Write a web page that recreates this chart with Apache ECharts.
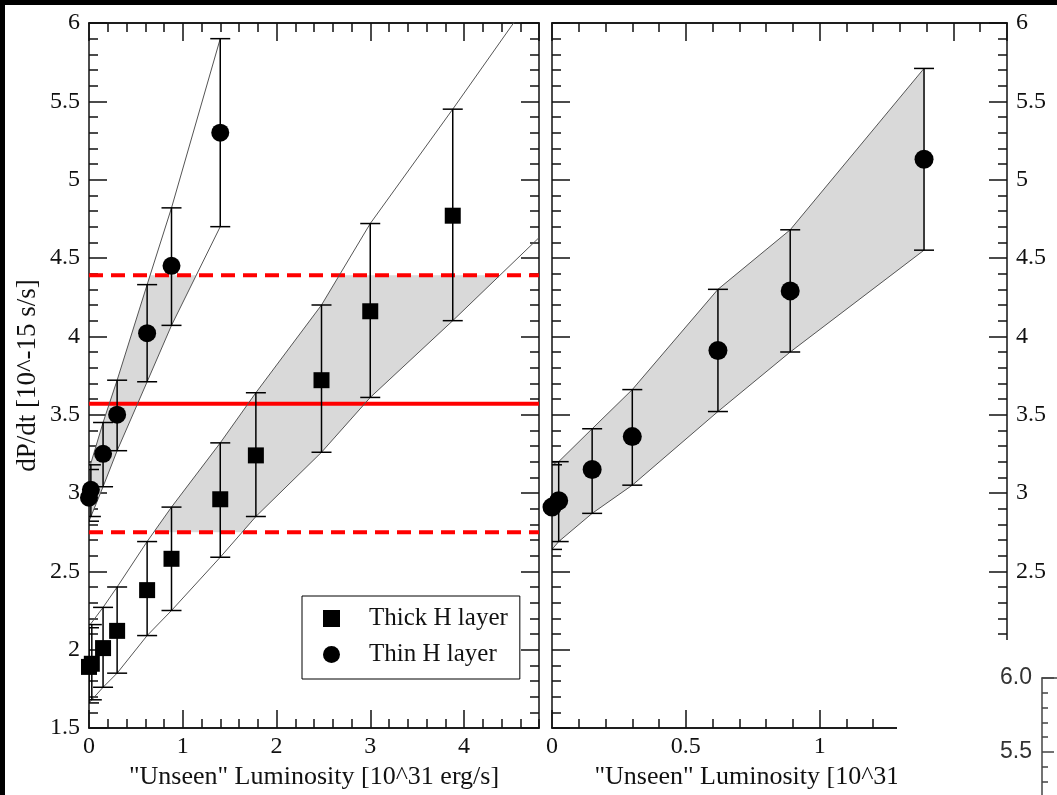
<!DOCTYPE html>
<html><head><meta charset="utf-8">
<script src="https://cdn.jsdelivr.net/npm/echarts@6/dist/echarts.min.js"></script>
<style>html,body{margin:0;padding:0;background:#fff}#c{width:1057px;height:795px}</style>
</head><body><div id="c"></div><script>
// ---------- data ----------
// Left panel, thick H layer (squares)
const thickX  = [0, 0.03, 0.15, 0.30, 0.62, 0.88, 1.40, 1.78, 2.48, 3.00, 3.88];
const thickY  = [1.89, 1.91, 2.01, 2.12, 2.38, 2.58, 2.96, 3.24, 3.72, 4.16, 4.77];
const thickHi = [2.14, 2.16, 2.27, 2.40, 2.69, 2.91, 3.32, 3.64, 4.20, 4.72, 5.45];
const thickLo = [1.66, 1.68, 1.76, 1.85, 2.09, 2.25, 2.59, 2.85, 3.26, 3.61, 4.10];
const thickBandX     = [0, 0.15, 0.30, 0.62, 0.88, 1.40, 1.78, 2.48, 3.00, 3.88, 4.80];
const thickBandUpper = [2.15, 2.27, 2.40, 2.69, 2.91, 3.32, 3.64, 4.20, 4.72, 5.45, 6.23];
const thickBandLower = [1.66, 1.76, 1.85, 2.09, 2.25, 2.59, 2.85, 3.26, 3.61, 4.10, 4.63];
// Left panel, thin H layer (circles)
const thinX  = [0, 0.02, 0.15, 0.30, 0.62, 0.88, 1.40];
const thinY  = [2.97, 3.02, 3.25, 3.50, 4.02, 4.45, 5.30];
const thinHi = [3.15, 3.18, 3.45, 3.72, 4.33, 4.82, 5.90];
const thinLo = [2.82, 2.85, 3.04, 3.27, 3.71, 4.07, 4.70];
const thinBandX     = [0, 0.15, 0.30, 0.62, 0.88, 1.40];
const thinBandUpper = [3.15, 3.45, 3.72, 4.33, 4.82, 5.90];
const thinBandLower = [2.82, 3.04, 3.27, 3.71, 4.07, 4.70];
// Reference lines (left panel)
const refSolid = [3.57];
const refDashed = [2.75, 4.39];
// Middle panel, thin H layer (circles)
const midX  = [0, 0.025, 0.15, 0.30, 0.62, 0.89, 1.39];
const midY  = [2.91, 2.95, 3.15, 3.36, 3.91, 4.29, 5.13];
const midHi = [3.18, 3.20, 3.41, 3.66, 4.30, 4.68, 5.71];
const midLo = [2.64, 2.69, 2.87, 3.05, 3.52, 3.90, 4.55];

const leftXMax = 4.8, midXMax = 1.7, yMin = 1.5, yMax = 6;

// ---------- helpers ----------
const SERIF = "'Liberation Serif','Times New Roman',serif";
const SANS = "'Liberation Sans',Arial,sans-serif";
const AX = '#111';
const pairs = (xs, ys) => xs.map((x, i) => [x, ys[i]]);
const triples = (xs, lo, hi) => xs.map((x, i) => [x, lo[i], hi[i]]);

function clipY(poly, lim, keepAbove) {
  const out = [];
  const inside = p => keepAbove ? p[1] >= lim : p[1] <= lim;
  for (let i = 0; i < poly.length; i++) {
    const a = poly[i], b = poly[(i + 1) % poly.length];
    const ia = inside(a), ib = inside(b);
    if (ia) out.push(a);
    if (ia !== ib) {
      const t = (lim - a[1]) / (b[1] - a[1]);
      out.push([a[0] + t * (b[0] - a[0]), lim]);
    }
  }
  return out;
}
function bandRender(bx, up, lo, cLo, cHi) {
  return function (params, api) {
    let poly = [];
    for (let i = 0; i < bx.length; i++) poly.push([bx[i], up[i]]);
    for (let i = bx.length - 1; i >= 0; i--) poly.push([bx[i], lo[i]]);
    if (cLo != null) poly = clipY(poly, cLo, true);
    if (cHi != null) poly = clipY(poly, cHi, false);
    return { type: 'polygon', shape: { points: poly.map(p => api.coord(p)) },
             style: { fill: '#d9d9d9' } };
  };
}
function errRender(params, api) {
  const x = api.value(0);
  const pLo = api.coord([x, api.value(1)]), pHi = api.coord([x, api.value(2)]);
  const w = 10, st = { stroke: '#000', lineWidth: 1.5 };
  return { type: 'group', children: [
    { type: 'line', shape: { x1: pLo[0], y1: pLo[1], x2: pHi[0], y2: pHi[1] }, style: st },
    { type: 'line', shape: { x1: pLo[0] - w, y1: pLo[1], x2: pLo[0] + w, y2: pLo[1] }, style: st },
    { type: 'line', shape: { x1: pHi[0] - w, y1: pHi[1], x2: pHi[0] + w, y2: pHi[1] }, style: st }
  ]};
}
function xAx(grid, pos, max, interval, len, extra) {
  return Object.assign({
    type: 'value', gridIndex: grid, position: pos, min: 0, max: max, interval: interval,
    axisLine: { show: true, onZero: false, lineStyle: { color: AX, width: 1.5 } },
    axisTick: { show: true, inside: true, length: len, lineStyle: { color: AX, width: 1.5 } },
    axisLabel: { show: false }, splitLine: { show: false }
  }, extra || {});
}
function yAx(grid, pos, showLabel) {
  return {
    type: 'value', gridIndex: grid, position: pos, min: yMin, max: yMax, interval: 0.5,
    axisLine: { show: true, onZero: false, lineStyle: { color: AX, width: 1.5 } },
    axisTick: { show: true, inside: true, length: 18, lineStyle: { color: AX, width: 1.5 } },
    minorTick: { show: true, splitNumber: 5, length: 9, lineStyle: { color: AX, width: 1.5 } },
    axisLabel: { show: showLabel, margin: 9, fontFamily: SERIF, fontSize: 24, color: '#111' },
    splitLine: { show: false }, minorSplitLine: { show: false }
  };
}
const xLabel = { show: true, margin: 7, fontFamily: SERIF, fontSize: 24, color: '#111', showMaxLabel: false };
const xName = '"Unseen" Luminosity [10^31 erg/s]';
const nameStyle = { fontFamily: SERIF, fontSize: 26, color: '#111' };
const black = { color: '#000', opacity: 1 };

const chart = echarts.init(document.getElementById('c'), null, { renderer: 'canvas' });
chart.setOption({
  backgroundColor: '#fff',
  animation: false,
  grid: [
    { left: 89, top: 23, width: 450, height: 705, outerBoundsMode: 'none', containLabel: false },
    { left: 552, top: 23, width: 455, height: 705, outerBoundsMode: 'none', containLabel: false },
    { left: 1042, top: 678, width: 200, height: 296, outerBoundsMode: 'none', containLabel: false }
  ],
  xAxis: [
    xAx(0, 'bottom', leftXMax, 0.2, 9),
    xAx(0, 'bottom', leftXMax, 1, 18, { axisLabel: xLabel, name: xName, nameLocation: 'middle', nameGap: 33, nameTextStyle: nameStyle }),
    xAx(0, 'top', leftXMax, 0.2, 9),
    xAx(0, 'top', leftXMax, 1, 18),
    xAx(1, 'bottom', midXMax, 0.1, 9),
    xAx(1, 'bottom', midXMax, 0.5, 18, { axisLabel: xLabel, name: xName, nameLocation: 'middle', nameGap: 33, nameTextStyle: nameStyle }),
    xAx(1, 'top', midXMax, 0.1, 9),
    xAx(1, 'top', midXMax, 0.5, 18),
    { type: 'value', gridIndex: 2, position: 'top', min: 0, max: 1, z: 110,
      axisLine: { show: true, onZero: false, lineStyle: { color: '#444', width: 1.5 } },
      axisTick: { show: false }, axisLabel: { show: false }, splitLine: { show: false } }
  ],
  yAxis: [
    Object.assign(yAx(0, 'left', true), { name: 'dP/dt [10^-15 s/s]', nameLocation: 'middle', nameGap: 48,
      nameTextStyle: { fontFamily: SERIF, fontSize: 27, color: '#111' } }),
    yAx(0, 'right', false),
    yAx(1, 'left', false),
    yAx(1, 'right', true),
    { type: 'value', gridIndex: 2, position: 'left', min: 4, max: 6, interval: 0.5, z: 110,
      axisLine: { show: true, onZero: false, lineStyle: { color: '#444', width: 1.5 } },
      axisTick: { show: true, inside: true, length: 12, lineStyle: { color: '#444', width: 1.5 } },
      minorTick: { show: true, splitNumber: 5, length: 6, lineStyle: { color: '#444', width: 1.5 } },
      axisLabel: { show: true, margin: 10, fontFamily: SANS, fontSize: 23, color: '#333', formatter: v => v.toFixed(1) },
      splitLine: { show: false } }
  ],
  legend: {
    left: 302, top: 596, orient: 'vertical',
    backgroundColor: '#fff', borderColor: '#000', borderWidth: 1, borderRadius: 0,
    padding: [10, 12, 12, 21], itemGap: 11, itemWidth: 17, itemHeight: 17,
    itemStyle: { opacity: 1 },
    textStyle: { fontFamily: SERIF, fontSize: 25, color: '#111', padding: [0, 0, 0, 24] },
    data: [{ name: 'Thick H layer', icon: 'rect' }, { name: 'Thin H layer', icon: 'circle' }]
  },
  graphic: { elements: [
    { type: 'rect', z: 100, shape: { x: 897, y: 640, width: 160, height: 155 }, style: { fill: '#fff' } },
    { type: 'rect', z: 120, shape: { x: 0, y: 0, width: 1057, height: 5 }, style: { fill: '#000' } },
    { type: 'rect', z: 120, shape: { x: 0, y: 0, width: 5, height: 795 }, style: { fill: '#000' } }
  ]},
  series: [
    // shaded bands
    { type: 'custom', xAxisIndex: 0, yAxisIndex: 0, z: 1, silent: true, data: [[0, 2]],
      renderItem: bandRender(thickBandX, thickBandUpper, thickBandLower, refDashed[0], refDashed[1]) },
    { type: 'custom', xAxisIndex: 0, yAxisIndex: 0, z: 1, silent: true, data: [[0, 3]],
      renderItem: bandRender(thinBandX, thinBandUpper, thinBandLower, refDashed[0], refDashed[1]) },
    { type: 'custom', xAxisIndex: 4, yAxisIndex: 2, z: 1, silent: true, data: [[0, 3]],
      renderItem: bandRender(midX, midHi, midLo, null, null) },
    // red reference lines
    { type: 'line', xAxisIndex: 0, yAxisIndex: 0, z: 2, symbol: 'none', silent: true,
      data: [[0, refSolid[0]], [leftXMax, refSolid[0]]], lineStyle: { color: '#ff0000', width: 4 } },
    ...refDashed.map(v => ({ type: 'line', xAxisIndex: 0, yAxisIndex: 0, z: 2, symbol: 'none', silent: true,
      data: [[0, v], [leftXMax, v]], lineStyle: { color: '#ff0000', width: 4, type: [14, 8] } })),
    // band edges
    ...[[thickBandX, thickBandUpper, 0, 0], [thickBandX, thickBandLower, 0, 0],
        [thinBandX, thinBandUpper, 0, 0], [thinBandX, thinBandLower, 0, 0],
        [midX, midHi, 4, 2], [midX, midLo, 4, 2]].map(([xs, ys, xi, yi]) => ({
      type: 'line', xAxisIndex: xi, yAxisIndex: yi, z: 3, symbol: 'none', silent: true,
      data: pairs(xs, ys), lineStyle: { color: '#555', width: 1 } })),
    // error bars
    { type: 'custom', xAxisIndex: 0, yAxisIndex: 0, z: 4, clip: true, silent: true,
      encode: { x: 0, y: [1, 2] }, data: triples(thickX, thickLo, thickHi), renderItem: errRender },
    { type: 'custom', xAxisIndex: 0, yAxisIndex: 0, z: 4, clip: true, silent: true,
      encode: { x: 0, y: [1, 2] }, data: triples(thinX, thinLo, thinHi), renderItem: errRender },
    { type: 'custom', xAxisIndex: 4, yAxisIndex: 2, z: 4, clip: true, silent: true,
      encode: { x: 0, y: [1, 2] }, data: triples(midX, midLo, midHi), renderItem: errRender },
    // markers
    { type: 'scatter', name: 'Thick H layer', xAxisIndex: 0, yAxisIndex: 0, z: 5, symbol: 'rect', symbolSize: 16,
      itemStyle: black, data: pairs(thickX, thickY) },
    { type: 'scatter', name: 'Thin H layer', xAxisIndex: 0, yAxisIndex: 0, z: 5, symbol: 'circle', symbolSize: 18,
      itemStyle: black, data: pairs(thinX, thinY) },
    { type: 'scatter', name: 'Thin H layer', xAxisIndex: 4, yAxisIndex: 2, z: 5, symbol: 'circle', symbolSize: 19,
      itemStyle: black, data: pairs(midX, midY) }
  ]
});
</script></body></html>
